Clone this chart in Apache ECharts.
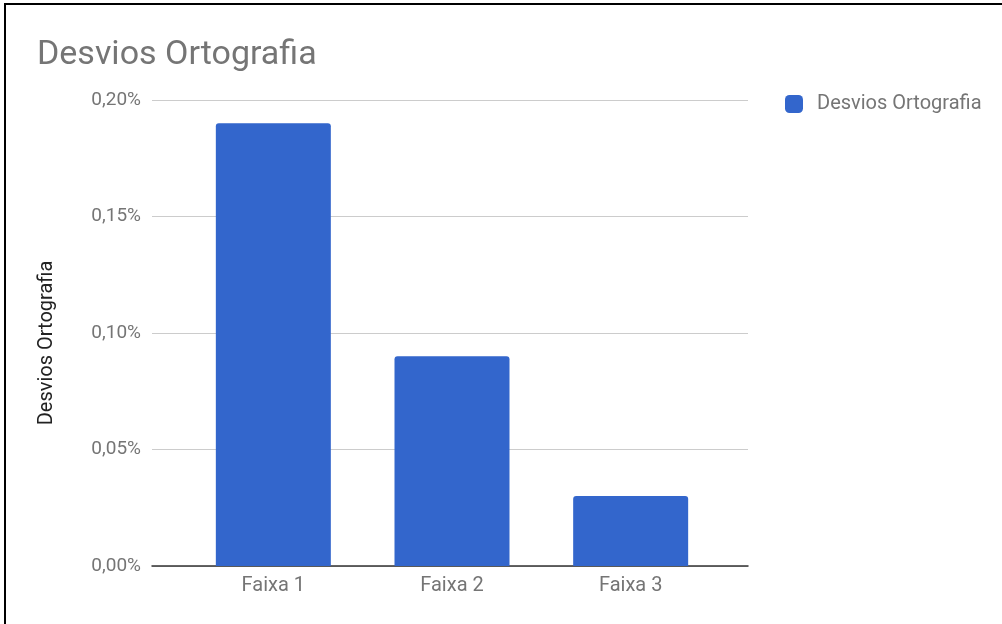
<!DOCTYPE html>
<html>
<head>
<meta charset="utf-8">
<script src="https://cdn.jsdelivr.net/npm/echarts@6/dist/echarts.min.js"></script>
<style>
  html, body { margin: 0; padding: 0; background: #fff; }
  #frame { position: absolute; left: 4px; top: 3px; width: 998px; height: 621px;
           border-top: 2px solid #000; border-left: 2px solid #000; box-sizing: border-box; }
  #chart { position: absolute; left: 0; top: 0; width: 1002px; height: 624px; }
</style>
</head>
<body>
<div id="chart"></div>
<div id="frame"></div>
<script>
// Spelling deviations by band (fraction in %)
const categories = ['Faixa 1', 'Faixa 2', 'Faixa 3'];
const values = [0.19, 0.09, 0.03];
const seriesName = 'Desvios Ortografia';
const titleText = 'Desvios Ortografia';
const axisName = 'Desvios Ortografia';
const yMin = 0, yMax = 0.2, yStep = 0.05;

const fmt = v => v.toFixed(2).replace('.', ',') + '%';
const FONT = 'Roboto';
const GRID_TOP = 100, GRID_BOTTOM = 58;

const chart = echarts.init(document.getElementById('chart'), null, { renderer: 'canvas' });
chart.setOption({
  animation: false,
  textStyle: { fontFamily: FONT },
  title: {
    text: titleText, left: 32, top: 33,
    textStyle: { fontFamily: FONT, fontSize: 34, fontWeight: 'normal', color: '#757575' }
  },
  legend: {
    data: [seriesName], left: 780, top: 89, orient: 'vertical',
    itemWidth: 18, itemHeight: 18, itemGap: 10,
    icon: 'roundRect',
    textStyle: { fontFamily: FONT, fontSize: 20, color: '#757575', padding: [0, 0, 0, 9] }
  },
  grid: [
    // full-width frame for gridlines, y labels and baseline
    { left: 152, right: 254, top: GRID_TOP, bottom: GRID_BOTTOM },
    // inner band where the bars sit
    { left: 184, right: 282, top: GRID_TOP, bottom: GRID_BOTTOM }
  ],
  xAxis: [
    { gridIndex: 0, type: 'value', min: 0, max: 1,
      axisLine: { show: true, onZero: false, lineStyle: { color: '#333', width: 1.5 } },
      axisTick: { show: false }, axisLabel: { show: false }, splitLine: { show: false } },
    { gridIndex: 1, type: 'category', data: categories,
      axisLine: { show: false }, axisTick: { show: false },
      axisLabel: { fontFamily: FONT, fontSize: 20, color: '#757575', margin: 10 } }
  ],
  yAxis: [
    { gridIndex: 0, type: 'value', min: yMin, max: yMax, interval: yStep,
      name: axisName, nameLocation: 'middle', nameGap: 95, nameRotate: 90,
      nameTextStyle: { fontFamily: FONT, fontSize: 20, color: '#222', padding: [0, 20, 0, 0] },
      axisLine: { show: false }, axisTick: { show: false },
      axisLabel: { fontFamily: FONT, fontSize: 19, color: '#757575', margin: 11, formatter: fmt },
      splitLine: { lineStyle: { color: '#cccccc', width: 1 } } },
    { gridIndex: 1, type: 'value', min: yMin, max: yMax, interval: yStep, show: false,
      splitLine: { show: false } }
  ],
  series: [
    { name: seriesName, type: 'bar', xAxisIndex: 1, yAxisIndex: 1,
      data: values, barWidth: 115,
      itemStyle: { color: '#3366cc', borderRadius: [3, 3, 0, 0] } }
  ]
});
</script>
</body>
</html>
